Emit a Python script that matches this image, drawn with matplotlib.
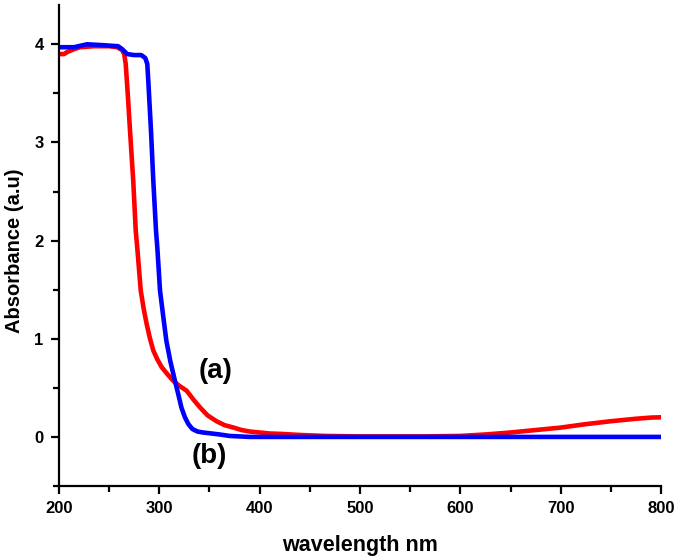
import matplotlib
matplotlib.use("Agg")
import matplotlib.pyplot as plt
from matplotlib import ticker

plt.rcParams['font.family'] = ['Liberation Sans', 'DejaVu Sans']

# curve (a): red
wl_a = [200, 205, 208, 215, 221, 235, 250, 258, 263, 265, 266.5, 268.5, 270.8,
        274, 276.5, 278, 281.5, 284.5, 287.4, 290.5, 294, 298, 302.4, 308, 314,
        320, 327.3, 334, 340.6, 348, 357, 365, 374, 382, 390, 400, 410, 423,
        440, 465, 500, 563, 600, 625, 650, 675, 700, 725, 750, 775, 790, 800]
abs_a = [3.90, 3.90, 3.92, 3.95, 3.97, 3.98, 3.98, 3.97, 3.94, 3.90, 3.80, 3.50,
         3.12, 2.61, 2.10, 1.93, 1.49, 1.30, 1.15, 1.01, 0.88, 0.79, 0.71, 0.64,
         0.57, 0.52, 0.47, 0.38, 0.30, 0.22, 0.16, 0.12, 0.095, 0.07, 0.055,
         0.045, 0.035, 0.03, 0.02, 0.01, 0.005, 0.005, 0.01, 0.025, 0.045, 0.07,
         0.095, 0.13, 0.16, 0.185, 0.197, 0.20]

# curve (b): blue
wl_b = [200, 215, 228, 245, 259, 263, 268, 275, 282, 286, 288, 289, 291.7, 294,
        296.7, 298, 300.7, 304, 307, 311, 315.6, 319, 322, 325.5, 329, 333, 338,
        343.6, 352, 360, 370, 390, 450, 600, 800]
abs_b = [3.97, 3.97, 4.00, 3.99, 3.98, 3.95, 3.90, 3.89, 3.89, 3.86, 3.80, 3.63,
         3.12, 2.61, 2.10, 1.93, 1.49, 1.22, 0.98, 0.77, 0.57, 0.43, 0.30, 0.20,
         0.13, 0.08, 0.055, 0.045, 0.035, 0.025, 0.01, 0.0, 0.0, 0.0, 0.0]

fig = plt.figure(figsize=(6.85, 5.56), dpi=100)
ax = fig.add_axes([0.0861, 0.1259, 0.8789, 0.8651])

ax.plot(wl_a, abs_a, color='#ff0000', lw=3.3, solid_joinstyle='round')
ax.plot(wl_b, abs_b, color='#0000ff', lw=3.3, solid_joinstyle='round')

ax.set_xlim(200, 800)
ax.set_ylim(-0.5, 4.4)
ax.xaxis.set_major_locator(ticker.MultipleLocator(100))
ax.xaxis.set_minor_locator(ticker.MultipleLocator(50))
ax.yaxis.set_major_locator(ticker.FixedLocator([0, 1, 2, 3, 4]))
ax.yaxis.set_minor_locator(ticker.FixedLocator([-0.5, 0.5, 1.5, 2.5, 3.5]))

for s in ['top', 'right']:
    ax.spines[s].set_visible(False)
for s in ['left', 'bottom']:
    ax.spines[s].set_linewidth(1.6)

ax.tick_params(which='major', direction='out', length=6, width=1.6, labelsize=12, pad=5)
ax.tick_params(which='minor', direction='out', length=4, width=1.6)
for lab in ax.get_xticklabels() + ax.get_yticklabels():
    lab.set_fontweight('bold')

ax.set_xlabel("wavelength nm", fontsize=15.5, fontweight='bold')
ax.set_ylabel("Absorbance (a.u)", fontsize=14.5, fontweight='bold')
ax.xaxis.set_label_coords(0.5, -0.102)
ax.yaxis.set_label_coords(-0.058, 0.489)

ax.text(356.5, 0.67, "(a)", fontsize=20, fontweight='bold', ha='center', va='center')
ax.text(349.5, -0.19, "(b)", fontsize=20, fontweight='bold', ha='center', va='center')

plt.savefig("out.png", dpi=100)
